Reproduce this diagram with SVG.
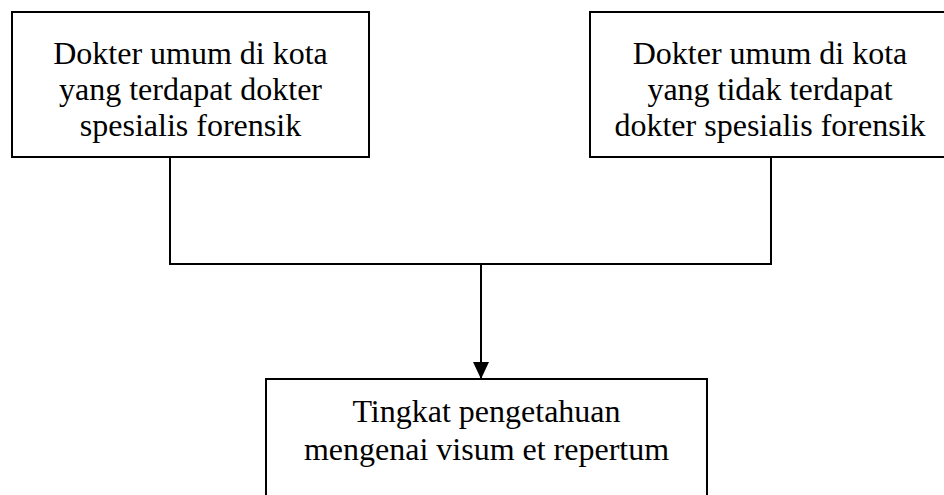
<svg xmlns="http://www.w3.org/2000/svg" width="944" height="495" viewBox="0 0 944 495">
<style>
.box{fill:#fff;stroke:#000;stroke-width:2}
.t{font-family:"Liberation Serif","Times New Roman",serif;font-size:32px;fill:#000;text-anchor:middle}
.c{fill:none;stroke:#000;stroke-width:2}
</style>
<defs>
<marker id="ah" markerUnits="userSpaceOnUse" markerWidth="18" markerHeight="18" refX="17" refY="8" orient="auto">
<path d="M0,0 L17,8 L0,16 Z" fill="#000"/>
</marker>
</defs>
<rect width="944" height="495" fill="#fff"/>
<g id="connectors">
<polyline class="c" points="170,157 170,264 771,264 771,157"/>
<line class="c" x1="481" y1="264" x2="481" y2="379" marker-end="url(#ah)"/>
</g>
<g id="node-left">
<rect class="box" x="12" y="12" width="357" height="145"/>
<text class="t" x="190.5" y="64">Dokter umum di kota</text>
<text class="t" x="190.5" y="100">yang terdapat dokter</text>
<text class="t" x="190.5" y="136">spesialis forensik</text>
</g>
<g id="node-right">
<rect class="box" x="590" y="12" width="360" height="145"/>
<text class="t" x="770" y="64">Dokter umum di kota</text>
<text class="t" x="770" y="100">yang tidak terdapat</text>
<text class="t" x="770" y="136">dokter spesialis forensik</text>
</g>
<g id="node-bottom">
<rect class="box" x="266" y="379" width="441" height="130"/>
<text class="t" x="486.5" y="422">Tingkat pengetahuan</text>
<text class="t" x="486.5" y="460">mengenai visum et repertum</text>
</g>
</svg>
